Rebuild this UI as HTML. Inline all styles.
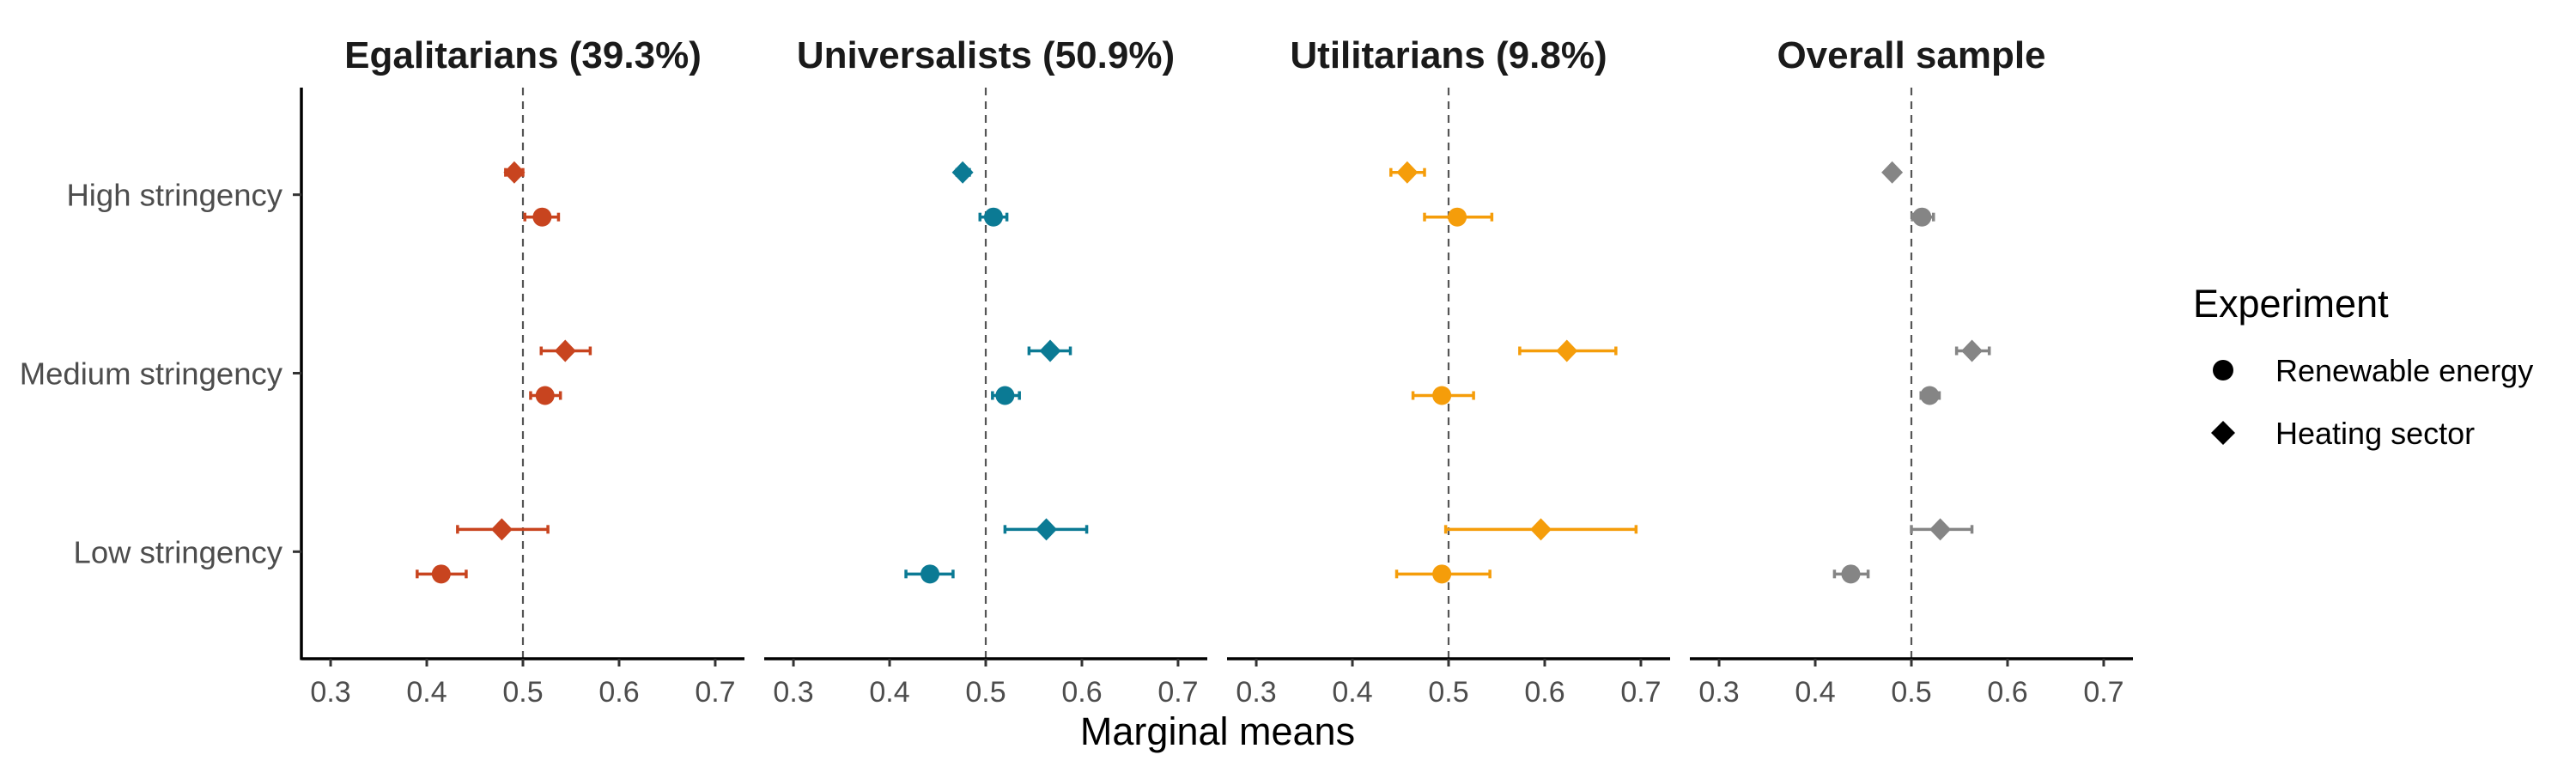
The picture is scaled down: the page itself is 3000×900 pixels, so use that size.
<!DOCTYPE html>
<html><head><meta charset="utf-8"><style>
html,body{margin:0;padding:0;background:#fff;}
svg{display:block;font-family:"Liberation Sans",sans-serif;}
</style></head><body>
<svg id="chart" width="3000" height="900" viewBox="0 0 3000 900" xmlns="http://www.w3.org/2000/svg">
<g id="plots"></g>
<text x="1418" y="867" font-size="45" text-anchor="middle" fill="#000">Marginal means</text>
<g>
<text x="2554" y="369" font-size="45" fill="#000">Experiment</text>
<g>
<circle cx="2589" cy="431" r="12" fill="#000"/>
<text x="2650" y="444" font-size="36" fill="#000">Renewable energy</text>
</g>
<g>
<polygon points="2589,490 2603,504 2589,518 2575,504" fill="#000"/>
<text x="2650" y="517" font-size="36" fill="#000">Heating sector</text>
</g>
</g>
</svg>
<script>
const panelTitles = ["Egalitarians (39.3%)", "Universalists (50.9%)", "Utilitarians (9.8%)", "Overall sample"];
const panelColors = ["#c8441f", "#0b7a94", "#f59d0a", "#858585"];
const categories = ["High stringency", "Medium stringency", "Low stringency"];
const xTicks = [0.3, 0.4, 0.5, 0.6, 0.7];
const xTickLabels = ["0.3", "0.4", "0.5", "0.6", "0.7"];
// per panel, per category [High, Medium, Low]
const heatEst = [[0.491,0.544,0.478],[0.476,0.567,0.563],[0.457,0.623,0.596],[0.480,0.563,0.530]];
const heatLo  = [[0.482,0.519,0.432],[0.470,0.545,0.520],[0.440,0.574,0.497],[0.475,0.547,0.500]];
const heatHi  = [[0.500,0.570,0.526],[0.483,0.588,0.605],[0.475,0.674,0.695],[0.485,0.581,0.563]];
const renEst  = [[0.520,0.523,0.415],[0.508,0.520,0.442],[0.509,0.493,0.493],[0.511,0.519,0.437]];
const renLo   = [[0.502,0.508,0.390],[0.494,0.507,0.417],[0.475,0.463,0.446],[0.501,0.510,0.420]];
const renHi   = [[0.537,0.539,0.441],[0.522,0.535,0.466],[0.545,0.526,0.543],[0.523,0.529,0.455]];

const NS = "http://www.w3.org/2000/svg";
const panelStarts = [351, 890, 1429, 1968];
const panelW = 516, plotTop = 102, plotBottom = 767;
const dMin = 0.2696, dMax = 0.7304;
function xScale(p, v){ return panelStarts[p] + (v - dMin) / (dMax - dMin) * panelW; }
function yScale(i){
  const lvl = 3 - i;
  return plotBottom - (lvl - 0.4) / 3.2 * (plotBottom - plotTop);
}
function mk(tag, attrs, parent){
  const e = document.createElementNS(NS, tag);
  for (const k in attrs) e.setAttribute(k, attrs[k]);
  parent.appendChild(e); return e;
}
const root = document.getElementById("plots");
const dodge = 26;
for (let p = 0; p < 4; p++){
  const g = mk("g", {}, root);
  
  
  const x0 = panelStarts[p];
  const t = mk("text", {x: x0 + panelW/2, y: 79, "font-size": 44, "font-weight": "bold", "text-anchor": "middle", fill: "#1a1a1a"}, g);
  t.textContent = panelTitles[p];
  
  
  const ref = mk("line", {x1: xScale(p,0.5), x2: xScale(p,0.5), y1: plotTop, y2: plotBottom, stroke: "#555", "stroke-width": 2.2, "stroke-dasharray": "9 7"}, g);
  
  
  const ax = mk("line", {x1: x0, x2: x0 + panelW, y1: plotBottom, y2: plotBottom, stroke: "#000", "stroke-width": 3.5}, g);
  
  
  xTicks.forEach((v, i) => {
    const tx = xScale(p, v);
    mk("line", {x1: tx, x2: tx, y1: plotBottom, y2: plotBottom + 9, stroke: "#333", "stroke-width": 3}, g);
    const tl = mk("text", {x: tx, y: 817, "font-size": 34, "text-anchor": "middle", fill: "#4d4d4d"}, g);
    tl.textContent = xTickLabels[i];
    
    
  });
  if (p === 0){
    const ay = mk("line", {x1: x0, x2: x0, y1: plotTop, y2: plotBottom + 1.5, stroke: "#000", "stroke-width": 3.5}, g);
    
    
    categories.forEach((c, i) => {
      const y = yScale(i);
      mk("line", {x1: x0 - 10, x2: x0, y1: y, y2: y, stroke: "#333", "stroke-width": 3}, g);
      const yl = mk("text", {x: x0 - 22, y: y + 13, "font-size": 36.5, "text-anchor": "end", fill: "#4d4d4d"}, g);
      yl.textContent = c;
      
      
    });
  }
  const col = panelColors[p];
  for (let i = 0; i < 3; i++){
    const yc = yScale(i);
    [[heatEst, heatLo, heatHi, yc - dodge, 'diamond'], [renEst, renLo, renHi, yc + dodge, 'circle']].forEach(s => {
      const [est, lo, hi, y, shape] = s;
      const eg = mk("g", {}, g);
      
      
      const xl = xScale(p, lo[p][i]), xh = xScale(p, hi[p][i]), xm = xScale(p, est[p][i]);
      mk("line", {x1: xl, x2: xh, y1: y, y2: y, stroke: col, "stroke-width": 3.5}, eg);
      mk("line", {x1: xl, x2: xl, y1: y - 5, y2: y + 5, stroke: col, "stroke-width": 3.5}, eg);
      mk("line", {x1: xh, x2: xh, y1: y - 5, y2: y + 5, stroke: col, "stroke-width": 3.5}, eg);
      if (shape === 'circle') mk("circle", {cx: xm, cy: y, r: 11, fill: col}, eg);
      else mk("polygon", {points: `${xm},${y-13} ${xm+12.5},${y} ${xm},${y+13} ${xm-12.5},${y}`, fill: col}, eg);
    });
  }
}
</script>
</body></html>
